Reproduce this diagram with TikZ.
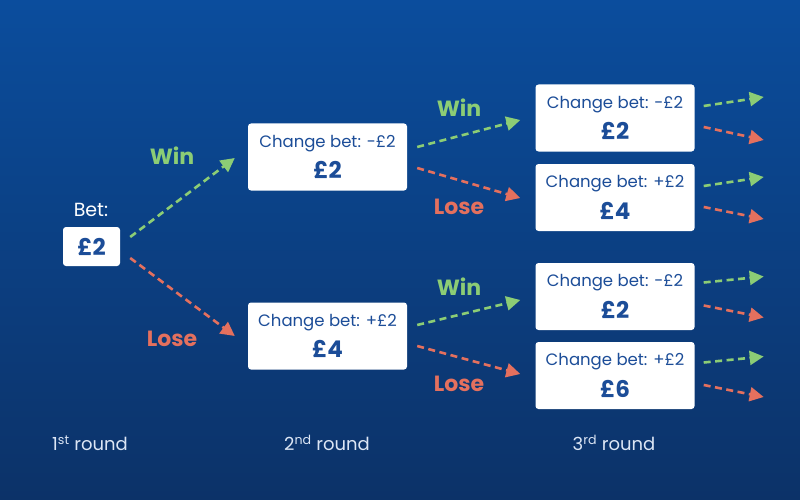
\documentclass[tikz,border=0pt]{standalone}
\usepackage{fontspec}
\setmainfont{Poppins}
\usepackage{tikz}
\usetikzlibrary{arrows.meta}

\definecolor{BgTop}{HTML}{0B4D9D}
\definecolor{BgBot}{HTML}{0C3268}
\definecolor{BoxText}{HTML}{1C4D98}
\definecolor{WinGreen}{HTML}{8CCD75}
\definecolor{LoseRed}{HTML}{E4705E}
\definecolor{RoundText}{HTML}{DCE6F5}

\newcommand{\changebox}[2]{{\fontsize{16.5}{18}\selectfont Change bet: #1}\\[9pt]{\fontsize{23}{23}\selectfont\bfseries #2}}

\begin{document}
\begin{tikzpicture}[x=1pt,y=-1pt,
    betbox/.style={fill=white,rounded corners=3pt,text=BoxText,align=center,
      minimum width=159pt,minimum height=67pt,inner sep=0pt},
    win/.style={WinGreen,line width=2.6pt,dash pattern=on 7pt off 4.5pt,
      -{Triangle[length=14pt,width=14pt]}},
    lose/.style={win,LoseRed},
    winlabel/.style={text=WinGreen,font=\fontsize{22}{22}\selectfont\bfseries},
    loselabel/.style={winlabel,text=LoseRed},
    roundlabel/.style={text=RoundText,font=\fontsize{18}{18}\selectfont}]
          \shade[top color=BgTop,bottom color=BgBot] (0,0) rectangle (800,500);
          \useasboundingbox (0,0) rectangle (800,500);

          % first round
          \node[text=white,font=\fontsize{19}{19}\selectfont] (bet) at (91,210) {Bet:};
          \node[betbox,minimum width=57pt,minimum height=39pt,
            font=\fontsize{23}{23}\selectfont\bfseries] (B0) at (91.5,246.5) {£2};

          % second round
          \node[betbox] (B1) at (327.5,157) {\changebox{-£2}{£2}};
          \node[betbox] (B2) at (327.5,336) {\changebox{+£2}{£4}};

          % third round
          \node[betbox] (C1) at (615,118) {\changebox{-£2}{£2}};
          \node[betbox] (C2) at (615,197.5) {\changebox{+£2}{£4}};
          \node[betbox] (C3) at (615,296.5) {\changebox{-£2}{£2}};
          \node[betbox] (C4) at (615,375.5) {\changebox{+£2}{£6}};

          \draw[win] ([shift={(10,-9.5)}]B0.east) -- ([shift={(-13,1)}]B1.west);
          \draw[lose] ([shift={(10,11.5)}]B0.east) -- ([shift={(-13,0)}]B2.west);

          \draw[win] ([shift={(10,-10)}]B1.east) -- ([shift={(-15,2)}]C1.west);
          \draw[lose] ([shift={(10,11)}]B1.east) -- ([shift={(-15,0.5)}]C2.west);
          \draw[win] ([shift={(10,-11)}]B2.east) -- ([shift={(-15,3.5)}]C3.west);
          \draw[lose] ([shift={(10,10)}]B2.east) -- ([shift={(-15,-1.5)}]C4.west);

          \draw[win] ([shift={(9,-12)}]C1.east) -- ++(60,-9);
          \draw[lose] ([shift={(9,9)}]C1.east) -- ++(60,13);
          \draw[win] ([shift={(9,-11.5)}]C2.east) -- ++(60,-9);
          \draw[lose] ([shift={(9,9.5)}]C2.east) -- ++(60,12);
          \draw[win] ([shift={(9,-14)}]C3.east) -- ++(60,-6);
          \draw[lose] ([shift={(9,9)}]C3.east) -- ++(60,12);
          \draw[win] ([shift={(9,-13)}]C4.east) -- ++(60,-6);
          \draw[lose] ([shift={(9,9.5)}]C4.east) -- ++(60,12);

          \node[winlabel] (W1) at (172,156) {Win};
          \node[loselabel] (L1) at (172,339) {Lose};
          \node[winlabel] (W2) at (459,108) {Win};
          \node[loselabel] (L2) at (459,207) {Lose};
          \node[winlabel] (W3) at (459,287) {Win};
          \node[loselabel] (L3) at (459,384) {Lose};

          \node[roundlabel] (R1) at (90,443) {1\textsuperscript{st} round};
          \node[roundlabel] (R2) at (327,443) {2\textsuperscript{nd} round};
          \node[roundlabel] (R3) at (614,443) {3\textsuperscript{rd} round};
        \end{tikzpicture}
\end{document}
